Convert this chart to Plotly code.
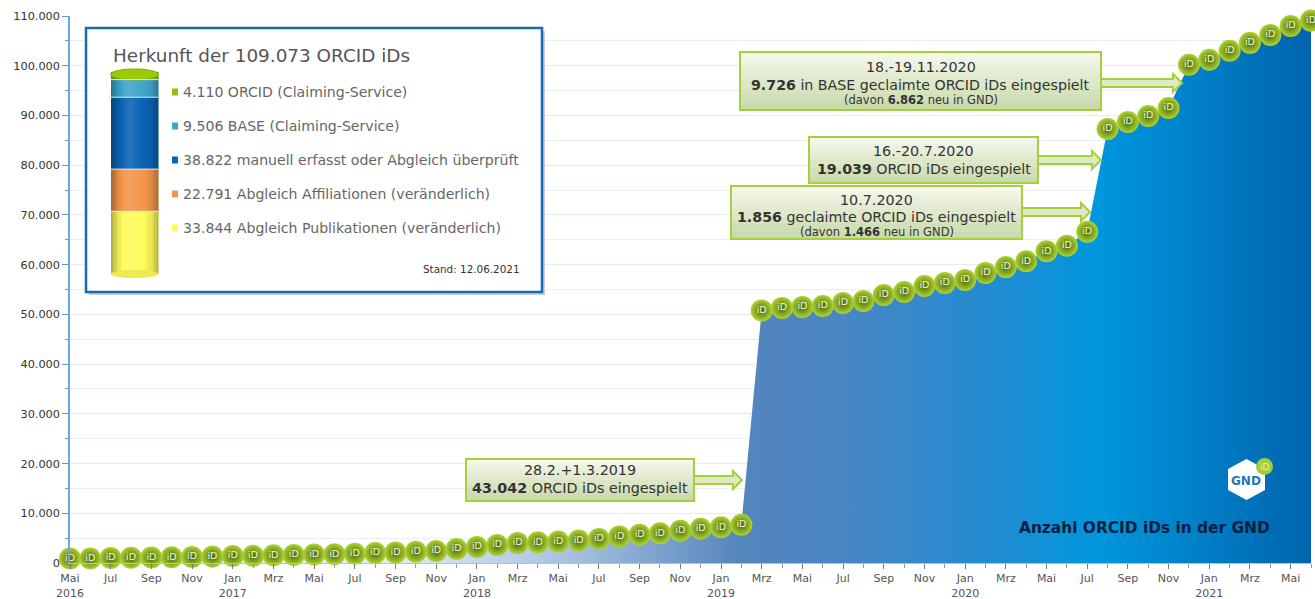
import plotly.graph_objects as go

W, H = 1315, 599
L, R, T, B = 70, 1311, 16, 563

def px(x): return (x - L) / (R - L)
def py(y): return (B - y) / (B - T)

months = ["Mai", "Jun", "Jul", "Aug", "Sep", "Okt", "Nov", "Dez", "Jan", "Feb", "Mrz", "Apr"]
month_index = list(range(62))
orcid_ids = [
    900, 900, 1000, 1050, 1100, 1150, 1200, 1300, 1400, 1450, 1550, 1600,
    1700, 1750, 1850, 2000, 2100, 2250, 2400, 2800, 3200, 3600, 4000, 4150,
    4300, 4500, 4850, 5350, 5700, 6000, 6500, 6900, 7200, 7700,
    50800, 51300, 51500, 51700, 52300, 52700, 53900, 54500, 55700, 56300,
    56900, 58300, 59500, 60700, 62700, 63800, 66600, 87300, 88700, 89900,
    91500, 100200, 101200, 103000, 104600, 106200, 108000, 109073,
]
y_ticks = [0, 10000, 20000, 30000, 40000, 50000, 60000, 70000, 80000, 90000, 100000, 110000]
y_labels = ["0", "10.000", "20.000", "30.000", "40.000", "50.000", "60.000", "70.000",
            "80.000", "90.000", "100.000", "110.000"]

x_ticks = list(range(0, 61, 2))
x_labels = []
for i in x_ticks:
    m = months[i % 12]
    year = 2016 + (i + 4) // 12
    x_labels.append(f"{m}<br>{year}" if (i == 0 or m == "Jan") else m)

origin_values = [33844, 22791, 38822, 9506, 4110]
origin_colors = ["#fdfb5c", "#f2964a", "#0a63b4", "#3fa5cb", "#8cc20a"]
origin_labels = [
    "33.844 Abgleich Publikationen (veränderlich)",
    "22.791 Abgleich Affiliationen (veränderlich)",
    "38.822 manuell erfasst oder Abgleich überprüft",
    "9.506 BASE (Claiming-Service)",
    "4.110 ORCID (Claiming-Service)",
]
legend_y = [228, 194, 160, 126, 92]
strip_shade = [-.3, -.2, -.12, -.06, 0, .04, .08, .1, .1, .08, .06, .04, .02, 0, -.02, -.05, -.08, -.12, -.2, -.3]


def shade(color, s):
    r, g, b = int(color[1:3], 16), int(color[3:5], 16), int(color[5:7], 16)
    t, a = (255, s) if s > 0 else (0, -s)
    return "#%02x%02x%02x" % tuple(round(c + (t - c) * a) for c in (r, g, b))


def mix(c1, c2, a):
    v1 = [int(c1[i:i + 2], 16) for i in (1, 3, 5)]
    v2 = [int(c2[i:i + 2], 16) for i in (1, 3, 5)]
    return "#%02x%02x%02x" % tuple(round(p + (q - p) * a) for p, q in zip(v1, v2))


fig = go.Figure()
fig.add_trace(go.Scatter(
    x=month_index, y=orcid_ids, mode="lines", line=dict(width=0), fill="tozeroy",
    fillgradient=dict(type="horizontal", colorscale=[
        [0, "#ffffff"], [.25, "#e6edf6"], [.4, "#a9c2e0"], [.54, "#5585bd"], [.62, "#4a86c4"],
        [.75, "#1f8cd2"], [.83, "#0097dd"], [1, "#0064ae"]]),
    hoverinfo="skip", showlegend=False))
fig.add_trace(go.Scatter(
    x=month_index, y=orcid_ids, mode="markers+text", text=["iD"] * len(orcid_ids),
    textposition="middle center", textfont=dict(size=9.5, color="#eef5d8", family="DejaVu Sans"),
    marker=dict(size=22, color="#b0d433", gradient=dict(type="radial", color="#48680c"),
                line=dict(width=0)),
    cliponaxis=False, showlegend=False))

strips = list(range(len(strip_shade)))
for value, color in zip(origin_values, origin_colors):
    fig.add_trace(go.Bar(
        x=strips, y=[value] * len(strips), xaxis="x2", yaxis="y2", width=1.02,
        marker=dict(color=[shade(color, s) for s in strip_shade], line=dict(width=0)),
        showlegend=False, hoverinfo="skip"))

shapes, ann = [], []


def rect(x0, y0, x1, y1, **kw):
    if "line" not in kw:
        kw["line_width"] = 0
    return dict(type="rect", xref="paper", yref="paper", x0=px(x0), x1=px(x1), y0=py(y0), y1=py(y1), layer="above", **kw)


def text(x, y, s, size=13, color="#333333", anchor="center", family="DejaVu Sans"):
    ann.append(dict(xref="paper", yref="paper", x=px(x), y=py(y), text=s, showarrow=False,
                    xanchor=anchor, yanchor="middle", align="center",
                    font=dict(size=size, color=color, family=family)))


def dx(x): return (x - L) / (R - L) * 61
def dy(y): return (B - y) / (B - T) * 110000

shapes.append(dict(type="rect", xref="x", yref="y", layer="between", x0=dx(89), x1=dx(545), y0=dy(31), y1=dy(295),
                   fillcolor="#c9ced6", line_width=0))
shapes.append(dict(type="rect", xref="x", yref="y", layer="between", x0=dx(86), x1=dx(542), y0=dy(28), y1=dy(292),
                   fillcolor="#ffffff", line=dict(color="#1769b5", width=2.5)))
# cylinder caps and segment separators
shapes.append(dict(type="circle", xref="paper", yref="paper", layer="above", x0=px(110.5), x1=px(158.5), y0=py(278), y1=py(270),
                   fillcolor="#ecea50", line_width=0))
shapes.append(dict(type="circle", xref="paper", yref="paper", layer="above", x0=px(110.5), x1=px(158.5), y0=py(80), y1=py(69),
                   fillcolor="#9ccb05", line=dict(color="#7aa604", width=1)))
running = 0
for v in origin_values[:-1]:
    running += v
    shapes.append(dict(type="line", xref="paper", yref="y2", layer="above", x0=px(110.5), x1=px(158.5), y0=running, y1=running,
                       line=dict(color="#dfeaf2", width=1)))
text(111, 55, "Herkunft der 109.073 ORCID iDs", 18.4, "#555555", "left")
for lab, col, yy in zip(origin_labels, origin_colors, legend_y):
    shapes.append(rect(172, yy - 3.5, 178, yy + 3.5, fillcolor=col))
    text(181, yy, lab, 14.1, "#666666", "left")
text(522, 269, "Stand: 12.06.2021", 10.4, "#333333", "right")

callouts = [
    (740, 1101, 52, 110, 1182, 83, [("18.-19.11.2020", 14.3, 67), ("<b>9.726</b> in BASE geclaimte ORCID iDs eingespielt", 14.2, 85), ("(davon <b>6.862</b> neu in GND)", 11.5, 100)]),
    (809, 1038, 137, 183, 1101, 160, [("16.-20.7.2020", 14.3, 151), ("<b>19.039</b> ORCID iDs eingespielt", 14.2, 169)]),
    (731, 1022, 186, 239, 1090, 212, [("10.7.2020", 14.3, 200), ("<b>1.856</b> geclaimte ORCID iDs eingespielt", 14.2, 217), ("(davon <b>1.466</b> neu in GND)", 11.5, 232)]),
    (466, 694, 459, 501, 742, 480, [("28.2.+1.3.2019", 14.3, 470), ("<b>43.042</b> ORCID iDs eingespielt", 14.3, 488)]),
]
for x0, x1, y0, y1, tip, ya, lines in callouts:
    hd = tip - 9
    pts = [(x1, ya - 4), (hd, ya - 4), (hd, ya - 9), (tip, ya), (hd, ya + 9), (hd, ya + 4), (x1, ya + 4)]
    path = "M " + " L ".join(f"{px(a)},{py(b)}" for a, b in pts) + " Z"
    shapes.append(dict(type="path", xref="paper", yref="paper", layer="above", path=path,
                       fillcolor="#dfe9c6", line=dict(color="#a3d13a", width=2)))
    n = 14
    for i in range(n):
        a = y0 + (y1 - y0) * i / n
        b = y0 + (y1 - y0) * (i + 1) / n + .3
        shapes.append(rect(x0, a, x1, b, fillcolor=mix("#f5f7ec", "#c8d9aa", i / (n - 1))))
    shapes.append(rect(x0, y0, x1, y1, line=dict(color="#a3d13a", width=2), fillcolor="rgba(0,0,0,0)"))
    for s, size, yy in lines:
        text((x0 + x1) / 2, yy, s, size, "#333333")

# logo
hexp = [(1246.5, 459), (1265, 469), (1265, 490), (1246.5, 500), (1228, 490), (1228, 469)]
shapes.append(dict(type="path", xref="paper", yref="paper", layer="above", fillcolor="#ffffff", line_width=0,
                   path="M " + " L ".join(f"{px(a)},{py(b)}" for a, b in hexp) + " Z"))
text(1246, 481, "<b>GND</b>", 12, "#1f76b8")
shapes.append(dict(type="circle", xref="paper", yref="paper", layer="above", fillcolor="#a2cc3a", line_width=0,
                   x0=px(1256), x1=px(1273), y0=py(475), y1=py(458)))
text(1264.5, 467, "iD", 9, "#e4f2bd")
text(1144, 528, "<b>Anzahl ORCID iDs in der GND</b>", 15.4, "#04203f")

fig.update_layout(
    width=W, height=H, autosize=False, margin=dict(l=L, r=W - R, t=T, b=H - B, pad=0, autoexpand=False),
    paper_bgcolor="#ffffff", plot_bgcolor="#ffffff", barmode="stack", bargap=0, showlegend=False,
    shapes=shapes, annotations=ann,
    font=dict(family="DejaVu Sans", size=11, color="#444444"),
    xaxis=dict(range=[0, 61], tickvals=x_ticks, ticktext=x_labels, ticks="outside", ticklen=5,
               automargin=False,
               tickcolor="#777777", showgrid=False, zeroline=False, showline=True, linecolor="#a9c4de",
               tickangle=0, tickfont=dict(size=11, color="#555555"),
               minor=dict(dtick=1, tick0=0, ticks="outside", ticklen=4, tickcolor="#999999", showgrid=False)),
    yaxis=dict(range=[0, 110000], tickvals=y_ticks, ticktext=y_labels, ticks="outside", ticklen=6,
               automargin=False,
               tickcolor="#5b9bd5", gridcolor="#e3ebf7", gridwidth=1, zeroline=False, showline=True,
               linecolor="#6aa8de", linewidth=1.5, tickfont=dict(size=11.3, color="#333333"),
               minor=dict(dtick=5000, tick0=0, ticks="outside", ticklen=3, tickcolor="#5b9bd5",
                          showgrid=True, gridcolor="#e8eff9", gridwidth=1)),
    xaxis2=dict(domain=[px(110.5), px(158.5)], range=[-.5, len(strips) - .5], anchor="y2", visible=False, fixedrange=True),
    yaxis2=dict(domain=[py(274), py(72)], range=[0, sum(origin_values)], anchor="x2", visible=False, fixedrange=True),
)
fig.write_html("out.html", config=dict(displayModeBar=False), post_script="document.body.style.margin='0';")
